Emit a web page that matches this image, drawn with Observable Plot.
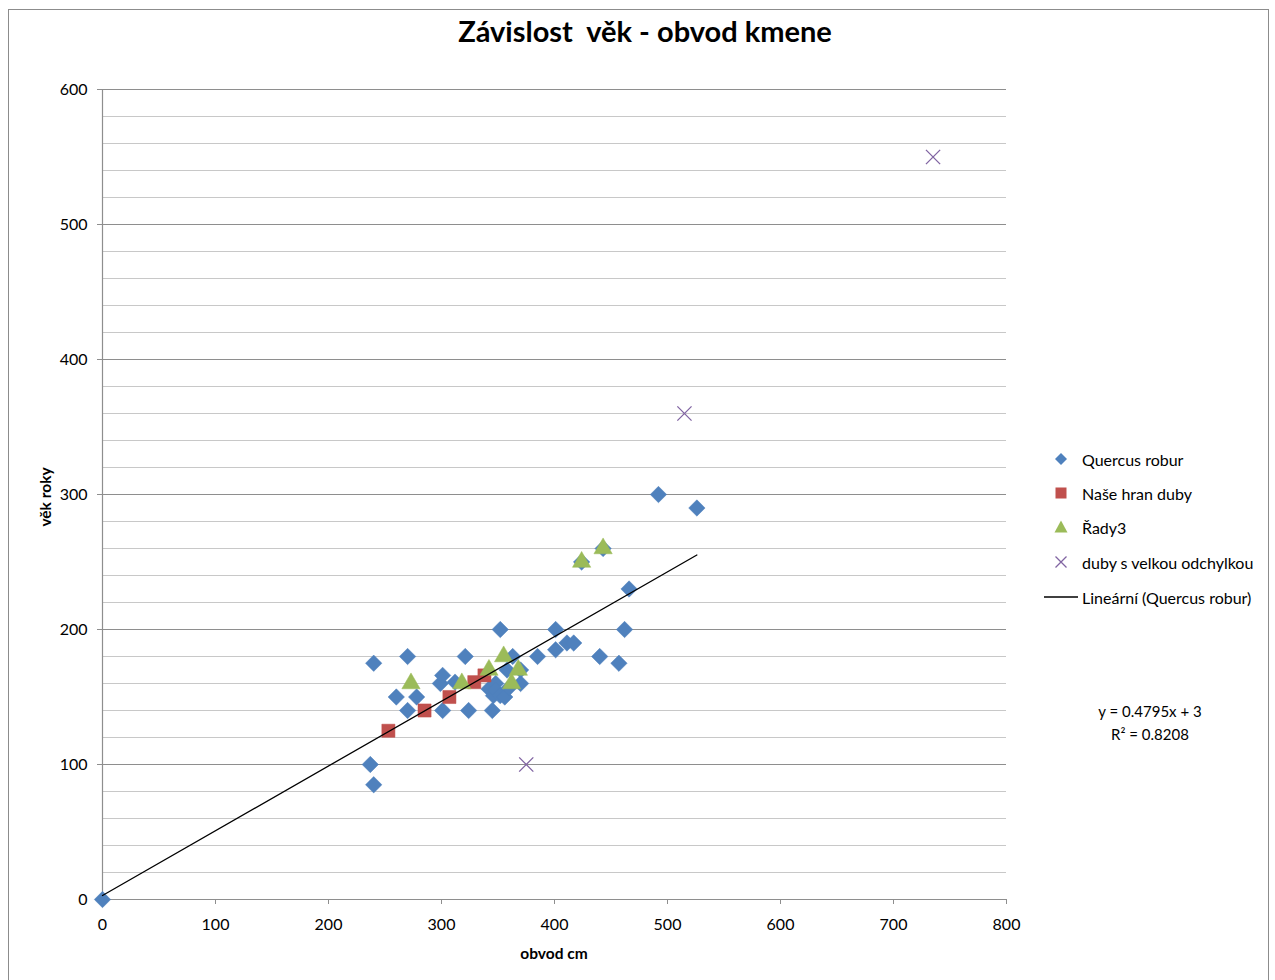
<!DOCTYPE html>
<html>
<head>
<meta charset="utf-8">
<script src="https://cdn.jsdelivr.net/npm/d3@7"></script>
<script src="https://cdn.jsdelivr.net/npm/@observablehq/plot@0.6"></script>
<style>
  html, body { margin: 0; padding: 0; background: #fff; overflow: hidden; }
  #wrap { position: relative; width: 1275px; height: 980px; font-family: Lato, "Open Sans", sans-serif; color: #000; }
  #frame { position: absolute; left: 8px; top: 9px; width: 1261px; height: 1000px; border: 1px solid #8c8c8c; box-sizing: border-box; }
  #chart { position: absolute; left: 0; top: 0; }
  .abs { position: absolute; white-space: pre; }
  #title { left: 0; width: 1290px; top: 13px; text-align: center; font-weight: bold; font-size: 29px; }
  #xlabel { left: 0; width: 1108px; top: 944px; text-align: center; font-weight: bold; font-size: 15.5px; }
  #ylabel { left: 45px; top: 497px; font-weight: bold; font-size: 15.5px; transform: translate(-50%, -50%) rotate(-90deg); }
  .leg { position: absolute; left: 1044px; height: 20px; display: flex; align-items: center; font-size: 16px; }
  .leg svg { width: 34px; height: 20px; margin-right: 4px; flex: none; }
  .eq { left: 1050px; width: 200px; text-align: center; font-size: 15px; }
</style>
</head>
<body>
<div id="wrap">
  <div id="frame"></div>
  <div id="chart"></div>
  <div id="title" class="abs">Závislost  věk - obvod kmene</div>
  <div id="xlabel" class="abs">obvod cm</div>
  <div id="ylabel" class="abs">věk roky</div>
  <div id="legend"></div>
  <div class="abs eq" style="top:702px">y = 0.4795x + 3</div>
  <div class="abs eq" style="top:725px">R² = 0.8208</div>
</div>
<script>
// ---- data (obvod cm, věk roky) ----
const quercusX = [0, 237, 240, 240, 260, 270, 270, 278, 299, 301, 301, 312, 321, 324,
  342, 345, 346, 348, 348, 352, 352, 356, 358, 360, 363, 370, 370,
  385, 401, 401, 411, 417, 424, 443, 440, 457, 462, 466, 492, 526];
const quercusY = [0, 100, 85, 175, 150, 180, 140, 150, 160, 166, 140, 161, 180, 140,
  156, 140, 151, 160, 155, 200, 151, 150, 170, 157, 180, 160, 170,
  180, 200, 185, 190, 190, 250, 260, 180, 175, 200, 230, 300, 290];
const naseX = [253, 285, 307, 329, 338];
const naseY = [125, 140, 150, 161, 166];
const rady3X = [273, 318, 342, 355, 362, 368, 424, 443];
const rady3Y = [160, 160, 170, 180, 160, 170, 250, 260];
const odchylkaX = [375, 515, 735];
const odchylkaY = [100, 360, 550];
const trendSlope = 0.4795, trendIntercept = 3;
const xTicks = [0, 100, 200, 300, 400, 500, 600, 700, 800];
const yTicks = [0, 100, 200, 300, 400, 500, 600];
const yMinorStep = 20;

const seriesNames = ["Quercus robur", "Naše hran duby", "Řady3", "duby s velkou odchylkou", "Lineární (Quercus robur)"];
const colors = { blue: "#4F81BD", red: "#C0504D", green: "#9BBB59", purple: "#8064A2" };

const zip = (xs, ys) => xs.map((x, i) => ({ x, y: ys[i] }));
const quercus = zip(quercusX, quercusY);
const nase = zip(naseX, naseY);
const rady3 = zip(rady3X, rady3Y);
const odch = zip(odchylkaX, odchylkaY);
const xmax = d3.max(quercusX);
const trend = [0, xmax].map(x => ({ x, y: trendSlope * x + trendIntercept }));
const minorGrid = d3.range(0, 601, yMinorStep).filter(v => v % 100 !== 0);

const plot = Plot.plot({
  width: 1275, height: 980,
  marginLeft: 102, marginRight: 269, marginTop: 89, marginBottom: 81,
  x: { domain: [0, 800] },
  y: { domain: [0, 600] },
  style: { fontFamily: "Lato, 'Open Sans', sans-serif", fontSize: "16px", background: "transparent", color: "#000" },
  marks: [
    Plot.ruleY(minorGrid, { stroke: "#c8c8c8", strokeWidth: 1.2 }),
    Plot.ruleY(yTicks.filter(v => v > 0), { stroke: "#8e8e8e", strokeWidth: 1.2 }),
    Plot.ruleX([0], { stroke: "#8e8e8e", strokeWidth: 1.2 }),
    Plot.ruleY([0], { stroke: "#8e8e8e", strokeWidth: 1.2 }),
    Plot.axisX({ ticks: xTicks, tickSize: 5, tickPadding: 14, tickFormat: d => String(d), label: null, stroke: "#8e8e8e", fontSize: 16 }),
    Plot.axisY({ ticks: yTicks, tickSize: 5, tickPadding: 10, tickFormat: d => String(d), label: null, stroke: "#8e8e8e", fontSize: 16 }),
    Plot.dot(quercus, { x: "x", y: "y", symbol: "diamond2", r: 7.4, fill: colors.blue, stroke: colors.blue, strokeWidth: 0.5 }),
    Plot.dot(nase, { x: "x", y: "y", symbol: "square", r: 7.4, fill: colors.red, stroke: colors.red, strokeWidth: 0.5 }),
    Plot.dot(rady3, { x: "x", y: "y", symbol: "triangle", r: 6.8, fill: colors.green, stroke: colors.green, strokeWidth: 0.5 }),
    Plot.dot(odch, { x: "x", y: "y", symbol: "times", r: 6.5, stroke: colors.purple, strokeWidth: 1.3, fill: "none" }),
    Plot.line(trend, { x: "x", y: "y", stroke: "#000", strokeWidth: 1.3 })
  ]
});
document.getElementById("chart").appendChild(plot);

// ---- legend ----
const legendSymbols = [
  `<polygon points="17,4 23,10 17,16 11,10" fill="${colors.blue}"/>`,
  `<rect x="11.5" y="4.5" width="11" height="11" fill="${colors.red}"/>`,
  `<polygon points="17,3.5 23.5,15.5 10.5,15.5" fill="${colors.green}"/>`,
  `<path d="M11.5,4.5L22.5,15.5M22.5,4.5L11.5,15.5" stroke="${colors.purple}" stroke-width="1.3" fill="none"/>`,
  `<line x1="0" y1="10" x2="34" y2="10" stroke="#000" stroke-width="1.3"/>`
];
const legendTops = [449, 483, 517, 552, 587];
const legend = document.getElementById("legend");
seriesNames.forEach((name, i) => {
  const div = document.createElement("div");
  div.className = "leg";
  div.style.top = legendTops[i] + "px";
  div.innerHTML = `<svg viewBox="0 0 34 20">${legendSymbols[i]}</svg><span>${name}</span>`;
  legend.appendChild(div);
});
</script>
</body>
</html>
